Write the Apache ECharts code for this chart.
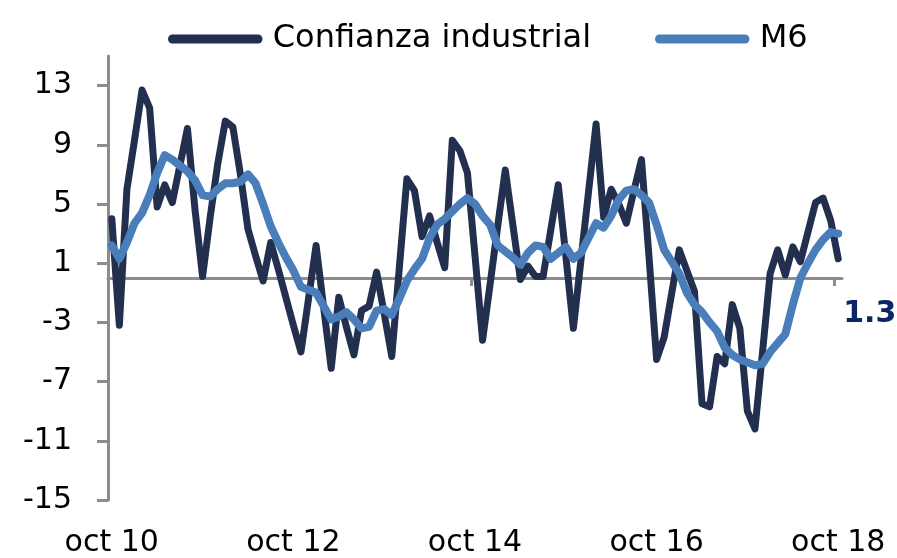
<!DOCTYPE html>
<html>
<head>
<meta charset="utf-8">
<script src="https://cdn.jsdelivr.net/npm/echarts@6/dist/echarts.min.js"></script>
<style>
  html, body { margin: 0; padding: 0; background: #fff; }
  #chart { width: 897px; height: 558px; }
</style>
</head>
<body>
<div id="chart"></div>
<script>
var monthNames = ['ene', 'feb', 'mar', 'abr', 'may', 'jun', 'jul', 'ago', 'sep', 'oct', 'nov', 'dic'];
var startYear = 2010, startMonth = 9, monthCount = 97; // oct 10 .. oct 18

var confianza = [
  4.0, -3.2, 6.0, 9.3, 12.7, 11.5, 4.8, 6.3, 5.1, 7.6,
  10.1, 4.6, 0.1, 4.1, 7.7, 10.6, 10.2, 7.0, 3.3, 1.5,
  -0.2, 2.4, 0.6, -1.3, -3.2, -5.0, -1.4, 2.2, -2.0, -6.1,
  -1.3, -3.3, -5.2, -2.2, -1.9, 0.4, -2.4, -5.3, 0.7, 6.7,
  5.9, 2.8, 4.2, 2.4, 0.7, 9.3, 8.6, 7.1, 1.5, -4.2,
  -0.4, 3.5, 7.3, 3.6, -0.1, 0.8, 0.1, 0.1, 3.2, 6.3,
  1.5, -3.4, 1.2, 5.8, 10.4, 4.1, 6.0, 5.0, 3.7, 5.9,
  8.0, 1.4, -5.5, -4.0, -1.0, 1.9, 0.5, -0.9, -8.5, -8.7,
  -5.3, -5.8, -1.8, -3.4, -9.0, -10.2, -5.0, 0.3, 1.9, 0.2,
  2.1, 1.1, 3.1, 5.1, 5.4, 3.9, 1.3
];

var m6 = [
  2.2, 1.3, 2.4, 3.7, 4.4, 5.6, 7.1, 8.3, 8.0, 7.6,
  7.2, 6.6, 5.6, 5.5, 6.0, 6.4, 6.4, 6.5, 7.0, 6.4,
  5.0, 3.5, 2.4, 1.4, 0.5, -0.6, -0.8, -1.0, -1.9, -2.8,
  -2.6, -2.3, -2.8, -3.4, -3.3, -2.2, -2.1, -2.5, -1.4, -0.2,
  0.6, 1.3, 2.7, 3.6, 4.0, 4.5, 5.0, 5.4, 5.0, 4.2,
  3.6, 2.2, 1.8, 1.4, 0.9, 1.7, 2.2, 2.1, 1.3, 1.7,
  2.1, 1.3, 1.7, 2.7, 3.7, 3.4, 4.2, 5.3, 5.9, 6.0,
  5.6, 5.1, 3.6, 1.9, 1.1, 0.3, -1.0, -1.8, -2.3, -3.0,
  -3.6, -4.7, -5.2, -5.5, -5.7, -5.9, -5.8, -5.0, -4.4, -3.8,
  -1.8, 0.0, 1.0, 1.9, 2.6, 3.1, 3.0
];

var yTicks = [-15, -11, -7, -3, 1, 5, 9, 13];
var xTickMonths = [0, 48, 96];

var months = [];
for (var i = 0; i < monthCount; i++) {
  var m = (startMonth + i) % 12;
  var y = startYear + Math.floor((startMonth + i) / 12);
  months.push(monthNames[m] + ' ' + String(y).slice(2));
}

var font = 'DejaVu Sans';
var axisGrey = '#8c8c8c';
var darkColor = '#232f4e';
var blueColor = '#4a7ebb';
var capsule = 'path://M5,0 H100 A5,5 0 0 1 100,10 H5 A5,5 0 0 1 5,0 Z';

var chart = echarts.init(document.getElementById('chart'));

chart.setOption({
  animation: false,
  backgroundColor: '#fff',
  grid: { left: 108, right: 55, top: 56, bottom: 58, containLabel: false },
  legend: [
    {
      data: ['Confianza industrial'],
      left: 163, top: 18,
      icon: capsule, itemWidth: 105, itemHeight: 9,
      itemStyle: { borderWidth: 0 },
      textStyle: { fontFamily: font, fontSize: 32, color: '#000' }
    },
    {
      data: ['M6'],
      left: 650, top: 18,
      icon: capsule, itemWidth: 105, itemHeight: 9,
      itemStyle: { borderWidth: 0 },
      textStyle: { fontFamily: font, fontSize: 32, color: '#000' }
    }
  ],
  xAxis: [
    {
      type: 'category',
      data: months,
      position: 'bottom',
      boundaryGap: true,
      axisLine: { show: false, onZero: false },
      axisTick: { show: false },
      axisLabel: {
        interval: 23,
        margin: 28,
        fontFamily: font,
        fontSize: 30,
        color: '#000'
      },
      splitLine: { show: false }
    },
    {
      // line at zero with a tick every four years
      type: 'value',
      position: 'bottom',
      min: 0,
      max: monthCount,
      axisLine: { show: true, onZero: true, lineStyle: { color: axisGrey, width: 3 } },
      axisTick: { show: true, length: 8, customValues: xTickMonths, lineStyle: { color: axisGrey, width: 3 } },
      axisLabel: { show: false },
      splitLine: { show: false }
    }
  ],
  yAxis: {
    type: 'value',
    min: -15,
    max: 15,
    interval: 4,
    axisLine: { show: true, lineStyle: { color: axisGrey, width: 3 } },
    axisTick: { show: true, length: 11, customValues: yTicks, lineStyle: { color: axisGrey, width: 3 } },
    axisLabel: {
      customValues: yTicks,
      margin: 36,
      fontFamily: font,
      fontSize: 30,
      color: '#000'
    },
    splitLine: { show: false }
  },
  series: [
    {
      name: 'Confianza industrial',
      type: 'line',
      xAxisIndex: 0,
      data: confianza,
      showSymbol: false,
      color: darkColor,
      lineStyle: { color: darkColor, width: 7, cap: 'round', join: 'round' },
      endLabel: {
        show: true,
        formatter: function (p) { return p.value.toFixed(1); },
        offset: [-3, 55],
        fontFamily: font,
        fontWeight: 'bold',
        fontSize: 30,
        color: '#0b2566'
      },
      z: 2
    },
    {
      name: 'M6',
      type: 'line',
      xAxisIndex: 0,
      data: m6,
      showSymbol: false,
      color: blueColor,
      lineStyle: { color: blueColor, width: 8, cap: 'round', join: 'round' },
      z: 3
    }
  ]
});
</script>
</body>
</html>
